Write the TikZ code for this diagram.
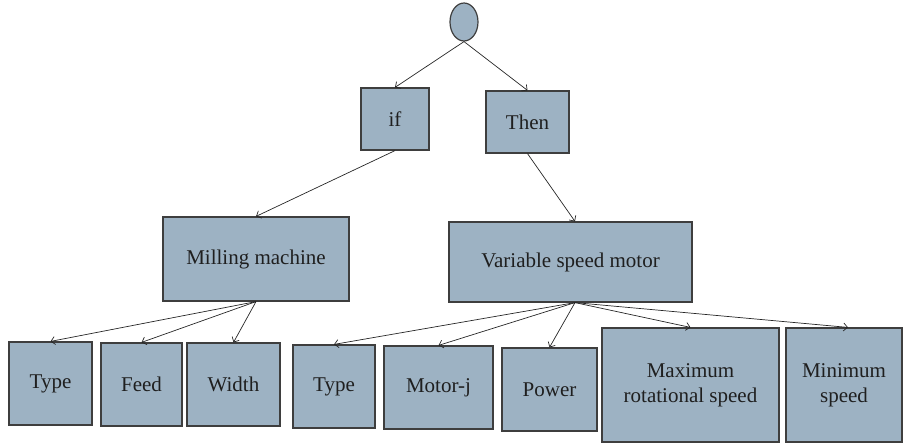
\documentclass[tikz,border=0pt]{standalone}
\usepackage{fontspec}
\setmainfont{Liberation Serif}
\usetikzlibrary{shapes,shapes.geometric,arrows,arrows.meta,positioning}
\definecolor{boxfill}{RGB}{157,178,195}
\definecolor{boxline}{RGB}{62,62,62}

\begin{document}
\begin{tikzpicture}[x=1pt,y=-1pt]
            \tikzstyle{every node} = [align=center, draw=boxline, fill=boxfill, line width=1.2pt, inner sep=0pt, text=black!88, font=\rmfamily\fontsize{21}{25}\selectfont]
            \tikzstyle{arr} = [-{Straight Barb[length=4pt,width=8pt]}, draw=black!85, line width=0.7pt]
            \useasboundingbox (0,0) rectangle (905,445);

            \node[ellipse, minimum width=28pt, minimum height=38pt](root) at (464,22){};
            \node[minimum width=68pt, minimum height=62pt](if) at (395,119){if};
            \node[minimum width=83pt, minimum height=62pt](then) at (527.5,122){Then};
            \node[minimum width=186pt, minimum height=84pt](mill) at (256,259){Milling machine};
            \node[minimum width=243pt, minimum height=80pt](vsm) at (570.5,262){Variable speed motor};

            \node[minimum width=83pt, minimum height=83pt](type1) at (50.5,383.5){Type};
            \node[minimum width=81pt, minimum height=83pt](feed) at (141.5,384.5){Feed};
            \node[minimum width=93pt, minimum height=83pt](width) at (233.5,384.5){Width};
            \node[minimum width=82pt, minimum height=83pt](type2) at (334,386.5){Type};
            \node[minimum width=109pt, minimum height=83pt](motorj) at (438.5,387.5){Motor-j};
            \node[minimum width=95pt, minimum height=83pt](power) at (549.5,389.5){Power};
            \node[minimum width=177pt, minimum height=114pt](maxrs) at (690.5,385){Maximum\\rotational speed};
            \node[minimum width=116pt, minimum height=114pt](minsp) at (844,385){Minimum\\speed};

            \path (root.south) edge[arr] (if.north);
            \path (root.south) edge[arr] (then.north);
            \path (if.south) edge[arr] (mill.north);
            \path (then.south) edge[arr] ([xshift=4.5pt]vsm.north);
            \path (mill.south) edge[arr] (type1.north);
            \path (mill.south) edge[arr] (feed.north);
            \path (mill.south) edge[arr] (width.north);
            \path ([xshift=4.5pt]vsm.south) edge[arr] (type2.north);
            \path ([xshift=4.5pt]vsm.south) edge[arr] (motorj.north);
            \path ([xshift=4.5pt]vsm.south) edge[arr] (power.north);
            \path ([xshift=4.5pt]vsm.south) edge[arr] (maxrs.north);
            \path ([xshift=4.5pt]vsm.south) edge[arr] ([xshift=4pt]minsp.north);
      \end{tikzpicture}
\end{document}
